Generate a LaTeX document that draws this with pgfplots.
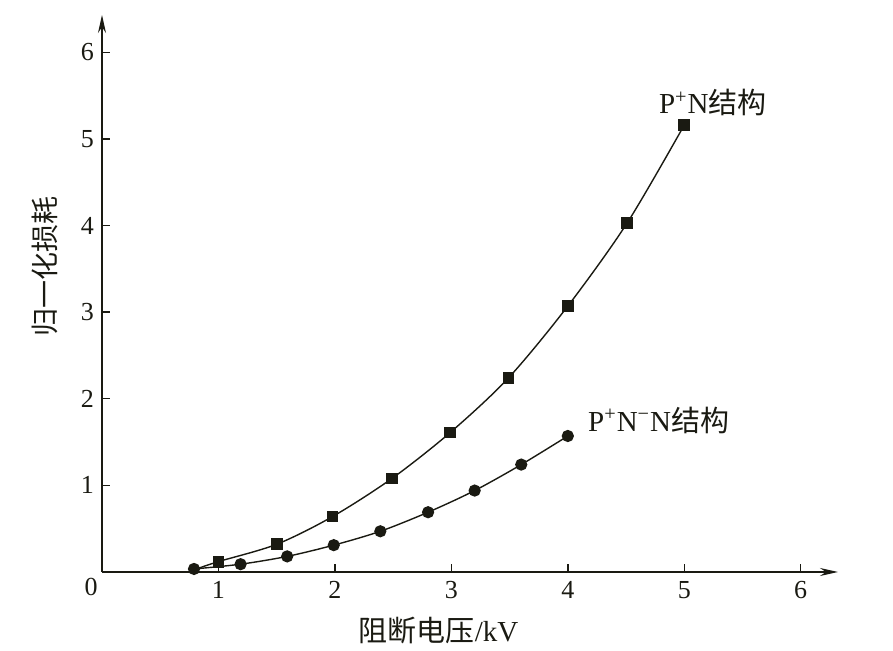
\documentclass[border=0pt]{standalone}
\usepackage{pgfplots}
\pgfplotsset{compat=1.18}
\usepackage{fontspec}
\setmainfont{Liberation Serif}
\newfontfamily\cjk{Noto Sans CJK SC}
\usetikzlibrary{arrows.meta}
\definecolor{ink}{HTML}{1A1A12}
\begin{document}
\begin{tikzpicture}
\useasboundingbox (-51pt,-39.5pt) rectangle (395.5pt,286pt);
\begin{axis}[
  at={(0pt,0pt)}, anchor=south west,
  scale only axis, width=368pt, height=278.5pt,
  xmin=0, xmax=6.32, ymin=0, ymax=6.43,
  axis lines=left,
  axis line style={ink, line width=0.7pt, -{Stealth[length=9pt,width=4pt]}},
  xtick={1,2,3,4,5,6}, ytick={1,2,3,4,5,6},
  tick align=inside, major tick length=4pt,
  tick style={ink, line width=0.7pt},
  ticklabel style={font=\fontsize{13}{15}\selectfont, text=ink},
  /pgf/number format/assume math mode=true,
  xticklabel style={yshift=-1pt},
  yticklabel style={xshift=-0.5pt},
  clip=false,
]
\addplot[ink, line width=0.7pt, smooth, mark=square*, mark size=2.6pt,
  mark indices={2,3,4,5,6,7,8,9,10}, mark options={solid, fill=ink}]
  coordinates {(0.8,0.03) (1.0,0.12) (1.5,0.32) (1.98,0.64) (2.49,1.08)
  (2.99,1.61) (3.49,2.24) (4.0,3.07) (4.51,4.03) (5.0,5.16)};
\addplot[ink, line width=0.7pt, smooth, mark=*, mark size=2.7pt,
  mark options={solid, fill=ink}]
  coordinates {(0.79,0.035) (1.19,0.09) (1.59,0.18) (1.99,0.31) (2.39,0.47)
  (2.8,0.69) (3.2,0.94) (3.6,1.24) (4.0,1.57)};
\node[ink, font=\fontsize{13}{15}\selectfont, anchor=north east, inner sep=2pt, yshift=-1pt] at (axis cs:0,0) {0};
\node[ink, font=\fontsize{14.5}{16}\selectfont] at (axis cs:5.245,5.42) {P\textsuperscript{+}N{\cjk 结构}};
\node[ink, font=\fontsize{14.5}{16}\selectfont] at (axis cs:4.78,1.75) {P\textsuperscript{+}N\textsuperscript{−}N{\cjk 结构}};
\node[ink, font=\fontsize{14}{16}\selectfont, rotate=90] at (axis cs:-0.49,3.53) {\cjk 归一化损耗};
\node[ink, font=\fontsize{14.5}{16}\selectfont] at (axis cs:2.89,-0.67) {{\cjk 阻断电压}/kV};
\end{axis}
\end{tikzpicture}
\end{document}
